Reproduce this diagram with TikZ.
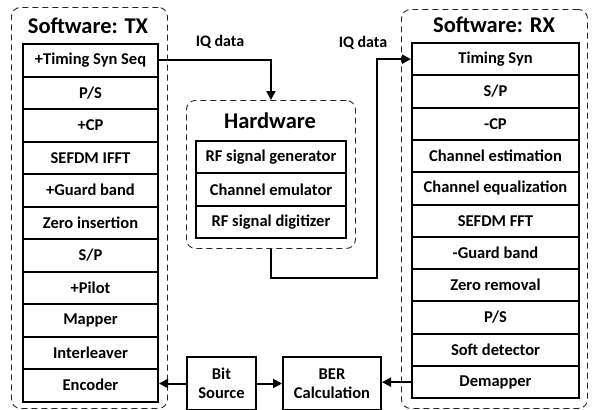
\documentclass[tikz,border=0pt]{standalone}
\usepackage{fontspec}
\setmainfont{Carlito}
\usetikzlibrary{arrows.meta}
\begin{document}
\begin{tikzpicture}[x=1pt,y=-1pt,
  rowbox/.style={draw, line width=2pt, inner sep=0pt, anchor=north west,
    font=\bfseries\fontsize{16.5}{18}\selectfont},
  grp/.style={draw=black!85, line width=0.9pt, rounded corners=9pt, dash pattern=on 6pt off 4pt},
  ttl/.style={font=\bfseries\fontsize{22.5}{24}\selectfont},
  lbl/.style={font=\bfseries\fontsize{16}{18}\selectfont},
  arr/.style={line width=2pt, -{Triangle[length=9pt,width=9pt]}},
  bigbox/.style={draw, line width=2pt, inner sep=0pt, align=center,
    font=\bfseries\fontsize{16.5}{19}\selectfont}
]
\useasboundingbox (0,0) rectangle (595,410);
% group frames
\node[grp, minimum width=156pt, minimum height=401pt, anchor=north west] (txg) at (11,7) {};
\node[grp, minimum width=186pt, minimum height=399pt, anchor=north west] (rxg) at (401,9) {};
\node[grp, minimum width=169pt, minimum height=148pt, anchor=north west] (hw) at (186,100) {};
% titles
\node[ttl] (txt) at (88,26) {Software: TX};
\node[ttl] (rxt) at (494,25) {Software: RX};
\node[ttl] (hwt) at (270,121) {Hardware};
% TX stack
\foreach \t [count=\i from 0] in {+Timing Syn Seq,P/S,+CP,SEFDM IFFT,+Guard band,Zero insertion,S/P,+Pilot,Mapper,Interleaver,Encoder}{
  \node[rowbox, minimum width=135pt, minimum height=32.5pt] (tx\i) at (22,43+\i*32.5) {\t};
}
% RX stack
\foreach \t [count=\i from 0] in {Timing Syn,S/P,-CP,Channel estimation,Channel equalization,SEFDM FFT,-Guard band,Zero removal,P/S,Soft detector,Demapper}{
  \node[rowbox, minimum width=167pt, minimum height=32.3pt] (rx\i) at (411,42+\i*32.3) {\t};
}
% Hardware stack
\foreach \t [count=\i from 0] in {RF signal generator,Channel emulator,RF signal digitizer}{
  \node[rowbox, minimum width=150pt, minimum height=32.3pt] (hw\i) at (195,140+\i*32.3) {\t};
}
% bottom boxes
\node[bigbox, minimum width=69pt, minimum height=53pt, anchor=north west] (bit) at (186,356) {Bit\\Source};
\node[bigbox, minimum width=98pt, minimum height=53pt, anchor=north west] (ber) at (282,356) {BER\\Calculation};
% IQ labels
\node[lbl] (iq1) at (220,42) {IQ data};
\node[lbl] (iq2) at (363,43) {IQ data};
% connectors
\coordinate (turn) at (377,278);
\draw[arr] (tx0.east) -| (hw.north);
\draw[arr] (hw.south) |- (turn) |- (rx0.west);
\draw[arr] (bit.west) -- (bit.west -| tx10.east);
\draw[arr] (bit.east) -- (ber.west);
\draw[arr] (rx10.west) -- (rx10.west -| ber.east);
\end{tikzpicture}
\end{document}
